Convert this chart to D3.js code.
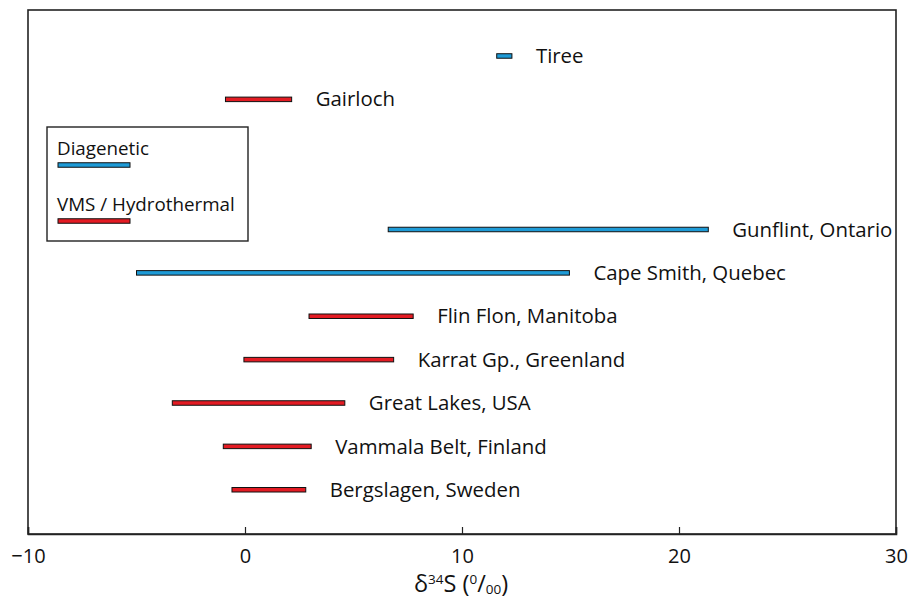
<!DOCTYPE html>
<html><head><meta charset="utf-8">
<script src="https://cdn.jsdelivr.net/npm/d3@7"></script>
<style>body{margin:0;background:#fff;} text{font-family:"Open Sans",sans-serif;fill:#111;}</style>
</head><body>
<svg id="chart" width="909" height="608"></svg>
<script>
const sites = ["Tiree","Gairloch","Gunflint, Ontario","Cape Smith, Quebec","Flin Flon, Manitoba","Karrat Gp., Greenland","Great Lakes, USA","Vammala Belt, Finland","Bergslagen, Sweden"];
const rows  = [0,1,4,5,6,7,8,9,10];
const minVals = [11.6,-0.9,6.6,-5.0,2.95,-0.05,-3.35,-1.0,-0.6];
const maxVals = [12.3,2.15,21.35,14.95,7.75,6.85,4.6,3.05,2.8];
const types = ["Diagenetic","VMS / Hydrothermal","Diagenetic","Diagenetic","VMS / Hydrothermal","VMS / Hydrothermal","VMS / Hydrothermal","VMS / Hydrothermal","VMS / Hydrothermal"];
const legendTypes = ["Diagenetic","VMS / Hydrothermal"];
const xTicks = [-10,0,10,20,30];

const colors = {"Diagenetic":"#1e9bd7","VMS / Hydrothermal":"#e31b23"};
const svg = d3.select("#chart");
const L=28,R=896,T=10,B=534;
const x = d3.scaleLinear().domain([-10,30]).range([L,R]);
const y = d3.scaleLinear().domain([-1.06,11.02]).range([T,B]);

// frame
svg.append("rect").attr("x",L).attr("y",T).attr("width",R-L).attr("height",B-T)
  .attr("fill","none").attr("stroke","#222").attr("stroke-width",1.6);

// axis
const ax = svg.append("g").attr("transform",`translate(0,${B})`)
  .call(d3.axisBottom(x).tickValues(xTicks).tickSize(-7).tickPadding(15).tickFormat(d=>d<0?"\u2212"+Math.abs(d):d));
ax.select(".domain").attr("stroke","#222").attr("stroke-width",1.6);
ax.selectAll(".tick line").attr("stroke","#222").attr("stroke-width",1.2);
ax.selectAll(".tick text").style("font-family","'Open Sans',sans-serif").style("font-size","20px").attr("fill","#111");

// axis title
const t = svg.append("text").attr("x",414).attr("y",592).attr("text-anchor","start").style("font-size","23.5px");
t.append("tspan").text("\u03b4");
t.append("tspan").text("34").attr("dy",-8).style("font-size","13.5px");
t.append("tspan").text("S (").attr("dy",8);
t.append("tspan").text("0").attr("dy",-8).style("font-size","13.5px");
t.append("tspan").text("/").attr("dy",8);
t.append("tspan").text("00").attr("dy",2).style("font-size","13.5px");
t.append("tspan").text(")").attr("dy",-2);

// bars
const data = sites.map((s,i)=>({s,row:rows[i],lo:minVals[i],hi:maxVals[i],type:types[i]}));
const bh=4.5;
svg.selectAll("rect.bar").data(data).join("rect").attr("class","bar")
  .attr("x",d=>x(d.lo)).attr("y",d=>y(d.row)-bh/2)
  .attr("width",d=>x(d.hi)-x(d.lo)).attr("height",bh)
  .attr("fill",d=>colors[d.type]).attr("stroke","#111").attr("stroke-width",1);
svg.selectAll("text.lab").data(data).join("text").attr("class","lab")
  .attr("x",d=>x(d.hi)+24).attr("y",d=>y(d.row)).attr("dy","0.35em")
  .style("font-size","20.4px").text(d=>d.s);

// legend
const lg = svg.append("g");
lg.append("rect").attr("x",47).attr("y",127).attr("width",201).attr("height",114)
  .attr("fill","#fff").attr("stroke","#222").attr("stroke-width",1.4);
legendTypes.forEach((k,i)=>{
  lg.append("text").attr("x",57).attr("y",155+i*56).style("font-size","18.8px").text(k);
  lg.append("rect").attr("x",58).attr("y",165+i*56-bh/2).attr("width",72).attr("height",bh)
    .attr("fill",colors[k]).attr("stroke","#111").attr("stroke-width",1);
});
</script>
</body></html>
